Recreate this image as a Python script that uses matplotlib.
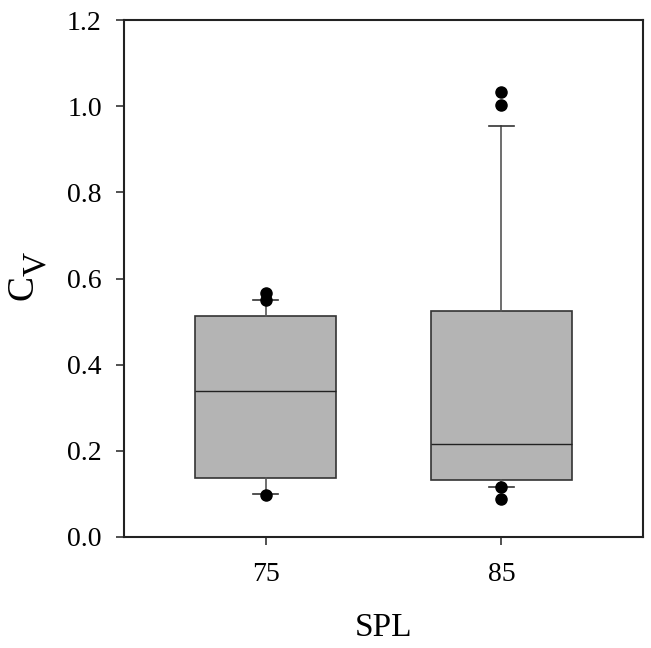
import matplotlib

matplotlib.use("Agg")
import matplotlib.pyplot as plt

# box statistics (CV per SPL group)
groups = ["75", "85"]
q1 = [0.136, 0.132]
median = [0.339, 0.215]
q3 = [0.514, 0.525]
whisker_low = [0.099, 0.117]
whisker_high = [0.549, 0.955]
outliers = [[0.567, 0.549, 0.098], [1.034, 1.003, 0.117, 0.088]]

plt.rcParams["font.family"] = ["Liberation Serif", "DejaVu Serif"]

W, H = 651, 648

stats = []
for i, name in enumerate(groups):
    stats.append({
        "label": name,
        "q1": q1[i],
        "med": median[i],
        "q3": q3[i],
        "whislo": whisker_low[i],
        "whishi": whisker_high[i],
        "fliers": outliers[i],
    })

fig = plt.figure(figsize=(W / 100, H / 100), dpi=100)
ax = fig.add_axes([124 / W, 1 - 537 / H, 519 / W, 517 / H])

ax.bxp(
    stats,
    positions=[1, 2],
    widths=0.6,
    patch_artist=True,
    capwidths=0.106,
    boxprops=dict(facecolor="#b4b4b4", edgecolor="#333333", linewidth=1.2),
    medianprops=dict(color="#222222", linewidth=1.0),
    whiskerprops=dict(color="#555555", linewidth=1.2),
    capprops=dict(color="#333333", linewidth=1.2),
    flierprops=dict(marker="o", markerfacecolor="black", markeredgecolor="black",
                    markersize=8, linestyle="none"),
)

ax.set_xlim(0.4, 2.6)
ax.set_ylim(0, 1.2)
ax.set_yticks([0.0, 0.2, 0.4, 0.6, 0.8, 1.0, 1.2])
ax.set_yticklabels([f"{v:.1f}" for v in ax.get_yticks()])
ax.set_xticks([1, 2])
ax.set_xticklabels(groups)

for side in ax.spines.values():
    side.set_linewidth(1.5)
    side.set_color("#222222")

ax.tick_params(axis="both", direction="out", length=6, width=1.1, labelsize=20,
               colors="#222222", labelcolor="black")
ax.tick_params(axis="y", pad=10)
ax.tick_params(axis="x", pad=12)

ax.set_xlabel("SPL", fontsize=24, labelpad=18)

# y label "C" with a large subscript "V", as in the original
fig.text(33 / W, 1 - 288 / H, "C", fontsize=27, rotation=90,
         rotation_mode="anchor", ha="center", va="baseline")
fig.text(45 / W, 1 - 264 / H, "V", fontsize=24, rotation=90,
         rotation_mode="anchor", ha="center", va="baseline")

fig.savefig("out.png", dpi=100)
